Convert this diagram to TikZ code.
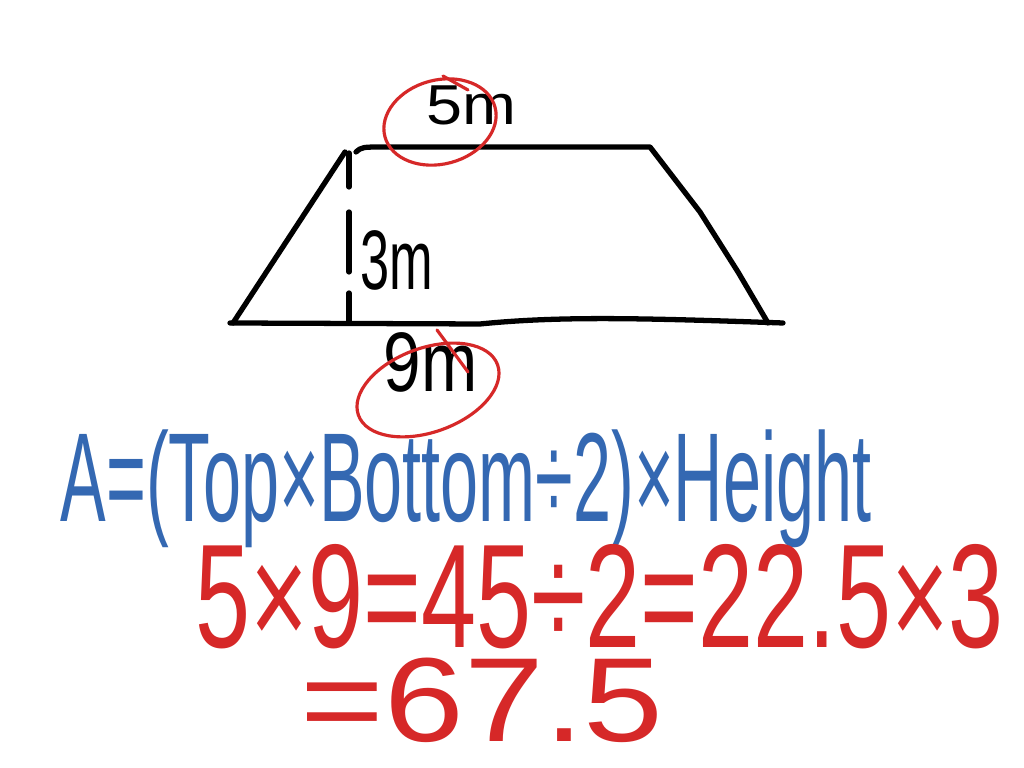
\documentclass[tikz,border=0pt]{standalone}
\usepackage{fontspec}
\setmainfont{Liberation Sans}
\definecolor{inkred}{RGB}{214,40,40}
\definecolor{inkblue}{RGB}{52,104,178}
\begin{document}
\begin{tikzpicture}[x=0.01cm,y=-0.01cm,
    ink/.style={line width=1.5pt,line cap=round,line join=round},
    ring/.style={inkred,line width=0.9pt,line cap=round},
    note/.style={inner sep=0pt,font=\fontsize{#1}{#1}\selectfont}]
    \useasboundingbox[fill=white] (0,0) rectangle (1024,768);
    % trapezoid
    \draw[ink] (233,323) -- (345,152);
    \draw[ink] (356,152) .. controls (362,147) .. (385,147) -- (650,147) -- (700,212) -- (738,272) -- (768,323);
    \draw[ink] (230,323) -- (480,324) .. controls (560,316) and (640,318) .. (783,323);
    \foreach \top/\bot in {153/187, 212/272, 293/322} {
        \draw[ink] (349,\top) -- (349,\bot);
    }
    % labels
    \node[note=16pt,anchor=base west] (top) at (426,125) {\scalebox{1.15}[1]{5m}};
    \node[note=24pt,anchor=base west] (height) at (360,290) {\scalebox{0.62}[1]{3m}};
    \node[note=24pt,anchor=base west] (bottom) at (383,392) {\scalebox{0.8}[1]{9m}};
    % circles
    \draw[ring,rotate around={15:(440,122)}] (440,122) ellipse [x radius=57,y radius=42];
    \draw[ring] (443,76) -- (468,90);
    \draw[ring,rotate around={20:(428,390)}] (428,390) ellipse [x radius=74,y radius=42];
    \draw[ring] (437,330) -- (468,372);
    % working
    \node[note=36pt,anchor=base west,text=inkblue] (rule) at (60,522)
        {\scalebox{0.54}[1]{A=(Top×Bottom÷2)×Height}};
    \node[note=42pt,anchor=base west,text=inkred] (step) at (195,648)
        {\scalebox{0.67}[1]{5×9=45÷2=22.5×3}};
    \node[note=34pt,anchor=base west,text=inkred] (area) at (300,742)
        {\scalebox{1.2}[1]{=67.5}};
\end{tikzpicture}
\end{document}
